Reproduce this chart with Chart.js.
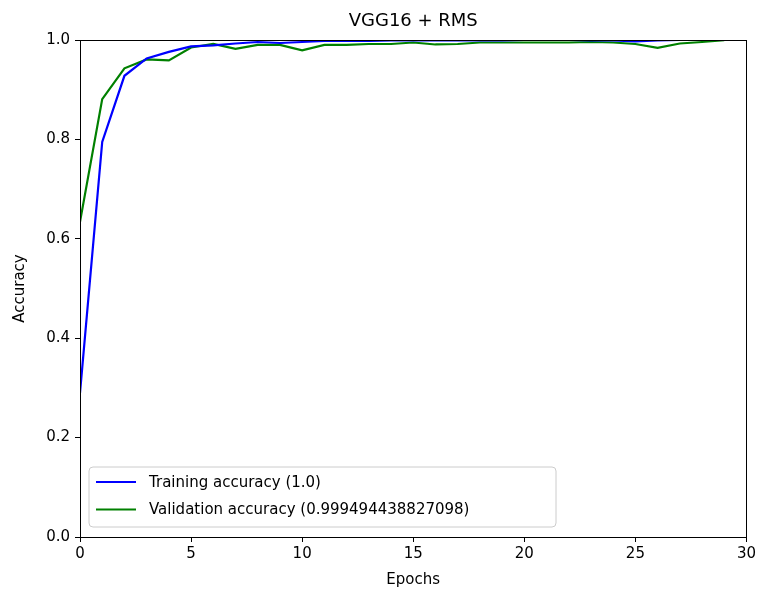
<!DOCTYPE html>
<html>
<head>
<meta charset="utf-8">
<script src="https://cdn.jsdelivr.net/npm/chart.js"></script>
<style>
  html, body { margin: 0; padding: 0; background: #fff; }
  #c { display: block; }
</style>
</head>
<body>
<canvas id="c" width="759" height="599"></canvas>
<script>
const chartTitle = "VGG16 + RMS";
const xLabel = "Epochs";
const yLabel = "Accuracy";
const epochs = [0,1,2,3,4,5,6,7,8,9,10,11,12,13,14,15,16,17,18,19,20,21,22,23,24,25,26,27,28,29];
const trainingAcc = [0.290,0.795,0.928,0.963,0.976,0.987,0.989,0.993,0.996,0.994,0.996,0.998,0.998,0.998,0.999,0.999,0.999,0.999,0.999,0.999,1.000,1.000,1.000,0.999,0.999,0.997,0.999,1.000,1.000,1.000];
const validationAcc = [0.634,0.881,0.943,0.961,0.959,0.985,0.992,0.982,0.990,0.990,0.979,0.990,0.990,0.992,0.992,0.995,0.991,0.992,0.995,0.995,0.995,0.995,0.995,0.996,0.995,0.992,0.984,0.993,0.996,0.9995];
const trainingLabel = "Training accuracy (1.0)";
const validationLabel = "Validation accuracy (0.999494438827098)";
const xTicks = [0,5,10,15,20,25,30];
const yTicks = [0.0,0.2,0.4,0.6,0.8,1.0];

const FONT = "'DejaVu Sans', sans-serif";

const framePlugin = {
  id: 'frame',
  afterDraw(chart) {
    const ctx = chart.ctx;
    const a = chart.chartArea;
    ctx.save();
    ctx.strokeStyle = '#000';
    ctx.lineWidth = 1;
    ctx.strokeRect(Math.round(a.left) + 0.5, Math.round(a.top) + 0.5, Math.round(a.right - a.left), Math.round(a.bottom - a.top));
    ctx.fillStyle = '#000';
    ctx.font = "18px " + FONT;
    ctx.textAlign = 'center';
    ctx.textBaseline = 'middle';
    ctx.fillText(chartTitle, (a.left + a.right) / 2, 21);
    ctx.font = "15px " + FONT;
    ctx.fillText(xLabel, (a.left + a.right) / 2, 580);
    ctx.save();
    ctx.translate(20, (a.top + a.bottom) / 2);
    ctx.rotate(-Math.PI / 2);
    ctx.fillText(yLabel, 0, 0);
    ctx.restore();
    const lx = a.left + 9, ly = a.bottom - 70, lw = 467, lh = 60, r = 4;
    ctx.beginPath();
    ctx.moveTo(lx + r, ly);
    ctx.lineTo(lx + lw - r, ly);
    ctx.quadraticCurveTo(lx + lw, ly, lx + lw, ly + r);
    ctx.lineTo(lx + lw, ly + lh - r);
    ctx.quadraticCurveTo(lx + lw, ly + lh, lx + lw - r, ly + lh);
    ctx.lineTo(lx + r, ly + lh);
    ctx.quadraticCurveTo(lx, ly + lh, lx, ly + lh - r);
    ctx.lineTo(lx, ly + r);
    ctx.quadraticCurveTo(lx, ly, lx + r, ly);
    ctx.closePath();
    ctx.fillStyle = 'rgba(255,255,255,0.8)';
    ctx.fill();
    ctx.strokeStyle = '#cccccc';
    ctx.lineWidth = 1;
    ctx.stroke();
    chart.data.datasets.forEach((ds, i) => {
      const y = ly + 15 + i * 27.5;
      ctx.strokeStyle = ds.borderColor;
      ctx.lineWidth = 2;
      ctx.beginPath();
      ctx.moveTo(lx + 7, y);
      ctx.lineTo(lx + 47, y);
      ctx.stroke();
      ctx.fillStyle = '#000';
      ctx.font = "15px " + FONT;
      ctx.textAlign = 'left';
      ctx.textBaseline = 'middle';
      ctx.fillText(ds.label, lx + 60, y + 1);
    });
    ctx.restore();
  }
};

const mk = (arr) => epochs.map((e, i) => ({ x: e, y: arr[i] }));

new Chart(document.getElementById('c'), {
  type: 'line',
  data: {
    datasets: [
      { label: trainingLabel, data: mk(trainingAcc), borderColor: '#0000ff', backgroundColor: '#0000ff', borderWidth: 2.2, pointRadius: 0, tension: 0, fill: false },
      { label: validationLabel, data: mk(validationAcc), borderColor: '#008000', backgroundColor: '#008000', borderWidth: 2.2, pointRadius: 0, tension: 0, fill: false }
    ]
  },
  options: {
    responsive: false,
    animation: false,
    devicePixelRatio: 1,
    layout: { padding: { top: 40, right: 12, left: 0, bottom: 0 } },
    plugins: { legend: { display: false }, title: { display: false }, tooltip: { enabled: false } },
    scales: {
      x: {
        type: 'linear', min: 0, max: 30,
        afterBuildTicks: (s) => { s.ticks = xTicks.map(v => ({ value: v })); },
        afterFit: (s) => { s.height = 62; },
        grid: { display: true, drawOnChartArea: false, drawTicks: true, tickLength: 5, color: '#000' },
        border: { display: true, color: '#000' },
        ticks: { color: '#000', font: { family: FONT, size: 15 }, padding: 3, maxRotation: 0, callback: v => String(v) }
      },
      y: {
        type: 'linear', min: 0, max: 1,
        afterBuildTicks: (s) => { s.ticks = yTicks.map(v => ({ value: v })); },
        afterFit: (s) => { s.width = 80; },
        grid: { display: true, drawOnChartArea: false, drawTicks: true, tickLength: 5, color: '#000' },
        border: { display: true, color: '#000' },
        ticks: { color: '#000', font: { family: FONT, size: 15 }, padding: 5, callback: v => Number(v).toFixed(1) }
      }
    }
  },
  plugins: [framePlugin]
});
</script>
</body>
</html>
